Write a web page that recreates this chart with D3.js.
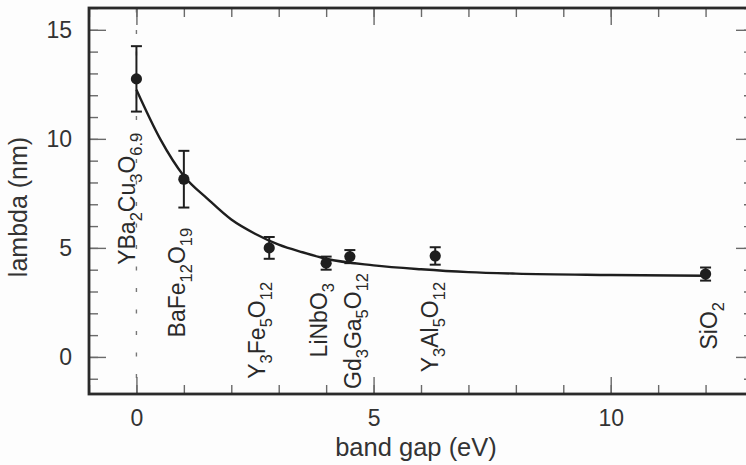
<!DOCTYPE html>
<html>
<head>
<meta charset="utf-8">
<script src="https://cdn.jsdelivr.net/npm/d3@7/dist/d3.min.js"></script>
<style>
  html, body { margin: 0; padding: 0; background: #fdfdfd; }
  svg { display: block; }
  text { font-family: "Liberation Sans", Arial, Helvetica, sans-serif; }
</style>
</head>
<body>
<svg id="chart" width="746" height="465"></svg>
<script>
// ---- data ----
const materials = ["YBa_2Cu_3O_6.9", "BaFe_12O_19", "Y_3Fe_5O_12", "LiNbO_3", "Gd_3Ga_5O_12", "Y_3Al_5O_12", "SiO_2"];
const bandGap   = [0, 1.0, 2.8, 4.0, 4.5, 6.3, 12.0];
const lambda    = [12.75, 8.15, 5.0, 4.3, 4.6, 4.63, 3.8];
const lambdaErr = [1.5, 1.3, 0.5, 0.3, 0.3, 0.4, 0.3];
const fitX = [0, 0.5, 1, 1.5, 2, 2.5, 3, 3.5, 4, 5, 6, 7, 8, 10, 12];
const fitY = [12.25, 10.0, 8.3, 7.25, 6.3, 5.65, 5.15, 4.8, 4.5, 4.2, 4.02, 3.89, 3.82, 3.76, 3.72];
const xTicks = [0, 5, 10];
const yTicks = [0, 5, 10, 15];
const xMinor = d3.range(-1, 14, 1);
const yMinor = d3.range(-1, 17, 1);

// ---- label layout (pixel shift, data-y of text end) ----
const labelShift = [-1, 1, -4, 1, 11, 3, 11];
const labelEndY  = [10.28, 5.92, 3.44, 3.39, 3.85, 3.44, 2.52];

const svg = d3.select("#chart");
const L = 89, R = 753, T = 8, B = 394;
const x = d3.scaleLinear().domain([-1, 13]).range([L, R]);
const y = d3.scaleLinear().domain([-1.7, 16]).range([B, T]);

const ink = "#1e1e1e";
const tickCol = "#6a6a6a";

svg.append("rect").attr("width", 746).attr("height", 465).attr("fill", "#fdfdfd");

// dotted line at x = 0
svg.append("line")
  .attr("x1", x(0)).attr("x2", x(0)).attr("y1", T).attr("y2", B)
  .attr("stroke", "#777").attr("stroke-width", 1.4)
  .attr("stroke-dasharray", "4,17.5").attr("stroke-dashoffset", -22);

function styleTicks(g) {
  g.select(".domain").remove();
  g.selectAll(".tick line").attr("stroke", tickCol).attr("stroke-width", 1.4);
  g.selectAll(".tick text").attr("fill", "#333").style("font-size", "23px");
}

// minor ticks (no labels)
const minorOpts = [
  [d3.axisBottom(x).tickValues(xMinor), `translate(0,${B})`],
  [d3.axisTop(x).tickValues(xMinor), `translate(0,${T})`],
  [d3.axisLeft(y).tickValues(yMinor), `translate(${L},0)`],
  [d3.axisRight(y).tickValues(yMinor), `translate(${R},0)`]
];
minorOpts.forEach(([ax, tr]) => {
  svg.append("g").attr("transform", tr)
    .call(ax.tickSize(-9).tickFormat(""))
    .call(styleTicks);
});

// major ticks
svg.append("g").attr("transform", `translate(0,${B})`)
  .call(d3.axisBottom(x).tickValues(xTicks).tickSize(-17).tickPadding(16).tickFormat(d3.format("d")))
  .call(styleTicks);
svg.append("g").attr("transform", `translate(0,${T})`)
  .call(d3.axisTop(x).tickValues(xTicks).tickSize(-17).tickFormat(""))
  .call(styleTicks);
svg.append("g").attr("transform", `translate(${L},0)`)
  .call(d3.axisLeft(y).tickValues(yTicks).tickSize(-17).tickPadding(17).tickFormat(d3.format("d")))
  .call(styleTicks);
svg.append("g").attr("transform", `translate(${R},0)`)
  .call(d3.axisRight(y).tickValues(yTicks).tickSize(-17).tickFormat(""))
  .call(styleTicks);

// frame
svg.append("rect")
  .attr("x", L).attr("y", T).attr("width", R - L).attr("height", B - T)
  .attr("fill", "none").attr("stroke", "#2a2a2a").attr("stroke-width", 2.8);

// fit curve
const line = d3.line().x((d, i) => x(fitX[i])).y(d => y(d)).curve(d3.curveMonotoneX);
svg.append("path").datum(fitY)
  .attr("d", line).attr("fill", "none").attr("stroke", ink).attr("stroke-width", 2.4);

// error bars + points
const pts = bandGap.map((bg, i) => ({ bg, v: lambda[i], e: lambdaErr[i], i }));
const capW = 5.5;
const eg = svg.append("g").attr("stroke", ink).attr("stroke-width", 2);
pts.forEach(d => {
  eg.append("line").attr("x1", x(d.bg)).attr("x2", x(d.bg)).attr("y1", y(d.v + d.e)).attr("y2", y(d.v - d.e));
  eg.append("line").attr("x1", x(d.bg) - capW).attr("x2", x(d.bg) + capW).attr("y1", y(d.v + d.e)).attr("y2", y(d.v + d.e));
  eg.append("line").attr("x1", x(d.bg) - capW).attr("x2", x(d.bg) + capW).attr("y1", y(d.v - d.e)).attr("y2", y(d.v - d.e));
});
svg.append("g").selectAll("circle").data(pts).join("circle")
  .attr("cx", d => x(d.bg)).attr("cy", d => y(d.v)).attr("r", 5.6).attr("fill", ink);

// material labels (rotated, with subscripts)
const fs = 23, subFs = 16.5, subDy = 7;
materials.forEach((m, i) => {
  const px = x(bandGap[i]) + labelShift[i];
  const py = y(labelEndY[i]);
  const t = svg.append("text")
    .attr("transform", `translate(${px},${py}) rotate(-90)`)
    .attr("text-anchor", "end")
    .attr("fill", "#2a2a2a")
    .style("font-size", fs + "px");
  const parts = m.split(/(_[\d.]+)/).filter(s => s.length);
  let shifted = false;
  parts.forEach(p => {
    if (p.startsWith("_")) {
      t.append("tspan").text(p.slice(1)).style("font-size", subFs + "px").attr("dy", shifted ? 0 : subDy);
      shifted = true;
    } else {
      t.append("tspan").text(p).attr("dy", shifted ? -subDy : 0);
      shifted = false;
    }
  });
});

// axis titles
svg.append("text")
  .attr("x", 416).attr("y", 456)
  .attr("text-anchor", "middle").attr("fill", "#333")
  .style("font-size", "25.5px").text("band gap (eV)");
svg.append("text")
  .attr("transform", `translate(27,${207}) rotate(-90)`)
  .attr("text-anchor", "middle").attr("fill", "#333")
  .style("font-size", "25px").text("lambda (nm)");
</script>
</body>
</html>
